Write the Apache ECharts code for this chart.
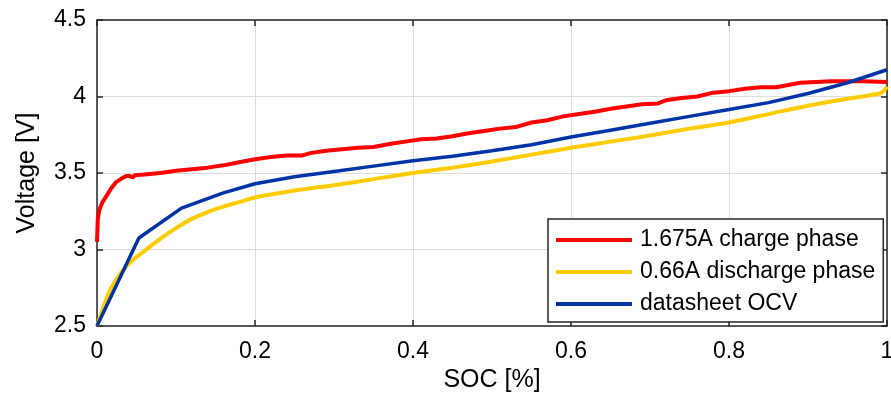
<!DOCTYPE html>
<html>
<head>
<meta charset="utf-8">
<script src="https://cdn.jsdelivr.net/npm/echarts@6/dist/echarts.min.js"></script>
<style>
html,body{margin:0;padding:0;background:#fff;}
#chart{width:891px;height:403px;}
</style>
</head>
<body>
<div id="chart"></div>
<script>
const seriesNames = ['1.675A charge phase', '0.66A discharge phase', 'datasheet OCV'];
const xTickLabels = ['0', '0.2', '0.4', '0.6', '0.8', '1'];
const yTickLabels = ['2.5', '3', '3.5', '4', '4.5'];

const socCharge = [0, 0.001, 0.003, 0.007, 0.012, 0.018, 0.024, 0.030, 0.037, 0.042, 0.045, 0.048, 0.06, 0.08, 0.10, 0.12, 0.14, 0.16, 0.18, 0.20, 0.22, 0.24, 0.26, 0.27, 0.29, 0.31, 0.33, 0.35, 0.37, 0.39, 0.41, 0.43, 0.45, 0.47, 0.49, 0.51, 0.53, 0.55, 0.57, 0.59, 0.61, 0.63, 0.65, 0.67, 0.69, 0.71, 0.72, 0.74, 0.76, 0.78, 0.80, 0.82, 0.84, 0.86, 0.87, 0.89, 0.91, 0.93, 0.95, 0.97, 1.0];
const voltCharge = [3.05, 3.20, 3.26, 3.31, 3.35, 3.40, 3.44, 3.46, 3.48, 3.48, 3.47, 3.485, 3.49, 3.50, 3.515, 3.525, 3.535, 3.55, 3.57, 3.59, 3.605, 3.615, 3.615, 3.63, 3.645, 3.655, 3.665, 3.67, 3.69, 3.705, 3.72, 3.725, 3.74, 3.76, 3.775, 3.79, 3.80, 3.83, 3.845, 3.87, 3.885, 3.90, 3.92, 3.935, 3.95, 3.955, 3.975, 3.99, 4.00, 4.025, 4.035, 4.05, 4.06, 4.06, 4.07, 4.09, 4.095, 4.10, 4.10, 4.10, 4.095];

const socDischarge = [0, 0.008, 0.016, 0.024, 0.032, 0.045, 0.06, 0.08, 0.10, 0.12, 0.14, 0.16, 0.18, 0.20, 0.25, 0.30, 0.35, 0.40, 0.45, 0.50, 0.55, 0.60, 0.65, 0.70, 0.75, 0.80, 0.85, 0.90, 0.95, 0.98, 0.993, 1.0];
const voltDischarge = [2.5, 2.62, 2.73, 2.80, 2.86, 2.93, 2.99, 3.07, 3.14, 3.20, 3.245, 3.28, 3.31, 3.34, 3.385, 3.42, 3.46, 3.50, 3.535, 3.575, 3.62, 3.665, 3.705, 3.745, 3.79, 3.83, 3.885, 3.94, 3.985, 4.01, 4.025, 4.065];

const socOCV = [0, 0.053, 0.107, 0.16, 0.20, 0.25, 0.30, 0.35, 0.40, 0.45, 0.50, 0.55, 0.60, 0.65, 0.70, 0.75, 0.80, 0.85, 0.90, 0.95, 1.0];
const voltOCV = [2.5, 3.075, 3.27, 3.37, 3.43, 3.475, 3.51, 3.545, 3.58, 3.61, 3.645, 3.685, 3.735, 3.78, 3.825, 3.87, 3.915, 3.96, 4.02, 4.09, 4.175];

const pair = (xs, ys) => xs.map((x, i) => [x, ys[i]]);
const xLabel = v => { const i = Math.round(v / 0.2); return xTickLabels[i] !== undefined ? xTickLabels[i] : ''; };
const yLabel = v => { const i = Math.round((v - 2.5) / 0.5); return yTickLabels[i] !== undefined ? yTickLabels[i] : ''; };

const FONT = 'Liberation Sans, Arial, sans-serif';
const axisLineStyle = { color: '#262626', width: 1.5 };
const gridLine = { show: true, lineStyle: { color: '#dcdcdc', width: 1 } };

const chart = echarts.init(document.getElementById('chart'), null, { renderer: 'canvas' });
chart.setOption({
  animation: false,
  backgroundColor: '#ffffff',
  grid: { left: 97, right: 4, top: 20, bottom: 77, containLabel: false, outerBoundsMode: 'none' },
  xAxis: [{
    type: 'value', min: 0, max: 1, interval: 0.2, position: 'bottom',
    name: 'SOC [%]', nameLocation: 'middle', nameGap: 42,
    nameTextStyle: { fontFamily: FONT, fontSize: 25, color: '#000' },
    axisLine: { show: true, onZero: false, lineStyle: axisLineStyle },
    axisTick: { show: true, inside: true, length: 6, lineStyle: axisLineStyle },
    axisLabel: { formatter: xLabel, fontFamily: FONT, fontSize: 23, color: '#000', margin: 14 },
    splitLine: gridLine
  }, {
    type: 'value', min: 0, max: 1, interval: 0.2, position: 'top',
    axisLine: { show: true, onZero: false, lineStyle: axisLineStyle },
    axisTick: { show: true, inside: true, length: 6, lineStyle: axisLineStyle },
    axisLabel: { show: false }, splitLine: { show: false }
  }],
  yAxis: [{
    type: 'value', min: 2.5, max: 4.5, interval: 0.5, position: 'left',
    name: 'Voltage [V]', nameLocation: 'middle', nameGap: 57,
    nameTextStyle: { fontFamily: FONT, fontSize: 25, color: '#000' },
    axisLine: { show: true, onZero: false, lineStyle: axisLineStyle },
    axisTick: { show: true, inside: true, length: 6, lineStyle: axisLineStyle },
    axisLabel: { formatter: yLabel, fontFamily: FONT, fontSize: 23, color: '#000', margin: 11 },
    splitLine: gridLine
  }, {
    type: 'value', min: 2.5, max: 4.5, interval: 0.5, position: 'right',
    axisLine: { show: true, onZero: false, lineStyle: axisLineStyle },
    axisTick: { show: true, inside: true, length: 6, lineStyle: axisLineStyle },
    axisLabel: { show: false }, splitLine: { show: false }
  }],
  legend: {
    orient: 'vertical', left: 548, top: 219,
    backgroundColor: '#ffffff', borderColor: '#262626', borderWidth: 1.5,
    padding: [8, 8, 5, 8], itemGap: 6,
    icon: 'rect', itemWidth: 76, itemHeight: 4,
    textStyle: { fontFamily: FONT, fontSize: 23, color: '#000', lineHeight: 26, padding: [0, 0, 0, 3] },
    data: seriesNames
  },
  series: [
    { name: seriesNames[0], type: 'line', showSymbol: false, data: pair(socCharge, voltCharge),
      lineStyle: { color: '#ff0000', width: 4 }, itemStyle: { color: '#ff0000' } },
    { name: seriesNames[1], type: 'line', showSymbol: false, data: pair(socDischarge, voltDischarge), smooth: 0.3,
      lineStyle: { color: '#ffcc00', width: 4 }, itemStyle: { color: '#ffcc00' } },
    { name: seriesNames[2], type: 'line', showSymbol: false, data: pair(socOCV, voltOCV),
      lineStyle: { color: '#0033a6', width: 3.5 }, itemStyle: { color: '#0033a6' } }
  ]
});
</script>
</body>
</html>
